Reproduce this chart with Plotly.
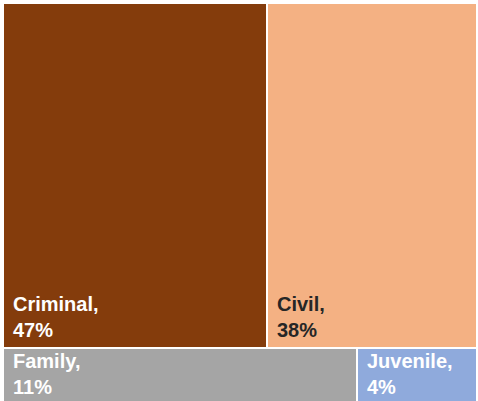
import plotly.graph_objects as go

categories = ["Criminal", "Civil", "Family", "Juvenile"]
shares = [47.4, 37.6, 11.2, 3.8]          # read from tile areas
share_labels = [47, 38, 11, 4]            # as printed on the tiles
rows = ["top", "top", "bottom", "bottom"]
row_ids = ["top", "bottom"]
colors = ["#843C0C", "#F4B183", "#A5A5A5", "#8FAADC"]
text_colors = ["#FFFFFF", "#262626", "#FFFFFF", "#FFFFFF"]

# row totals and vertical extents (cumulative share, bottom row first)
row_total = {r: sum(v for v, rr in zip(shares, rows) if rr == r) for r in row_ids}
row_bottom = {"bottom": 0, "top": row_total["bottom"]}

Y_MIN = 1.8  # bottom row is cropped by the picture edge

fig = go.Figure()
annotations = []
offset = {r: 0.0 for r in row_ids}
for cat, v, lab, r, col, tcol in zip(categories, shares, share_labels, rows, colors, text_colors):
    frac = v / row_total[r]
    base = offset[r]
    offset[r] += frac
    fig.add_trace(go.Bar(
        orientation="h",
        y=[row_bottom[r] + row_total[r] / 2],
        x=[frac],
        base=[base],
        width=[row_total[r]],
        marker=dict(color=col, line=dict(color="#FFFFFF", width=2)),
        name=cat,
        hoverinfo="skip",
        showlegend=False,
    ))
    if row_bottom[r] >= Y_MIN:
        ay, anchor, shift = row_bottom[r], "bottom", 5
    else:
        ay, anchor, shift = row_bottom[r] + row_total[r], "top", 0
    annotations.append(dict(
        x=base, y=ay, xref="x", yref="y",
        xanchor="left", yanchor=anchor, align="left",
        xshift=8, yshift=shift, showarrow=False,
        text=f"<b>{cat},<br>{lab}%</b>",
        font=dict(family="Liberation Sans, Arial, sans-serif", size=20, color=tcol),
    ))

fig.update_layout(
    width=478, height=401,
    margin=dict(l=3, r=1, t=3, b=0),
    paper_bgcolor="#FFFFFF", plot_bgcolor="#FFFFFF",
    barmode="overlay",
    bargap=0,
    annotations=annotations,
    xaxis=dict(range=[0, 1], visible=False, fixedrange=True),
    yaxis=dict(range=[Y_MIN, 100], visible=False, fixedrange=True),
)

fig.write_html(
    "out.html",
    config={"displayModeBar": False},
    post_script="document.body.style.margin='0';document.body.style.overflow='hidden';",
)
